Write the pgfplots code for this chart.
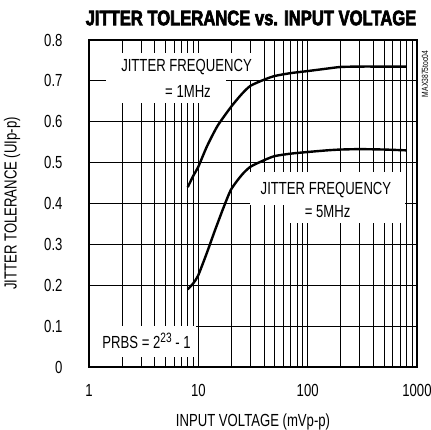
\documentclass[border=0pt]{standalone}
\usepackage{fontspec}
\setmainfont{Liberation Sans}[FakeStretch=0.75]
\newfontfamily\titlefont{Liberation Sans}[FakeStretch=0.79, BoldFeatures={FakeBold=3}]
\usepackage{pgfplots}
\pgfplotsset{compat=1.18}
\begin{document}
\begin{tikzpicture}
\begin{axis}[
  name=ax,
  set layers=standard,
  xmode=log, log basis x=10,
  xmin=1, xmax=1000, ymin=0, ymax=0.8,
  scale only axis, width=328bp, height=327bp,
  xtick={1,10,100,1000}, xticklabels={1,10,100,1000},
  minor xtick={2,3,4,5,6,7,8,9,20,30,40,50,60,70,80,90,200,300,400,500,600,700,800,900},
  ytick={0,0.1,0.2,0.3,0.4,0.5,0.6,0.7,0.8},
  yticklabels={0,0.1,0.2,0.3,0.4,0.5,0.6,0.7,0.8},
  grid=both,
  major grid style={black, line width=0.8bp},
  minor grid style={black, line width=0.8bp},
  axis line style={line width=1.8bp},
  major tick length=0pt, minor tick length=0pt,
  /pgf/number format/assume math mode=true,
  tick label style={font=\fontsize{17.5bp}{20bp}\selectfont},
  yticklabel style={xshift=-23bp},
  xticklabel style={yshift=-14bp},
  clip=false,
]
% white backgrounds behind the annotations
\fill[white, on layer=pre main] (axis cs:1.43,0.768) rectangle (axis cs:33.7,0.702);
\fill[white, on layer=pre main] (axis cs:1.43,0.702) rectangle (axis cs:17.9,0.646);
\fill[white, on layer=pre main] (axis cs:29.7,0.477) rectangle (axis cs:780,0.396);
\fill[white, on layer=pre main] (axis cs:69,0.396) rectangle (axis cs:780,0.352);
\fill[white, on layer=pre main] (axis cs:1.02,0.0995) rectangle (axis cs:9.6,0.0245);
\node[on layer=pre main, inner sep=0pt, font=\fontsize{17.5bp}{21bp}\selectfont] at (axis cs:7.8,0.735) {JITTER FREQUENCY};
\node[on layer=pre main, inner sep=0pt, font=\fontsize{17.5bp}{21bp}\selectfont] at (axis cs:8.05,0.674) {= 1MHz};
\node[on layer=pre main, inner sep=0pt, font=\fontsize{17.5bp}{21bp}\selectfont] at (axis cs:147,0.433) {JITTER FREQUENCY};
\node[on layer=pre main, inner sep=0pt, font=\fontsize{17.5bp}{21bp}\selectfont] at (axis cs:152,0.380) {= 5MHz};
\node[on layer=pre main, inner sep=0pt, font=\fontsize{17.5bp}{21bp}\selectfont] at (axis cs:3.36,0.064) {PRBS = 2\raisebox{6bp}{\fontsize{13.5bp}{14bp}\selectfont 23} - 1};
\addplot[black, line width=2.4bp, line join=round, smooth, tension=0.4] coordinates {
(8,0.44) (9,0.468) (10,0.49) (12,0.54) (15,0.59) (20,0.637) (25,0.668) (30,0.688) (40,0.703) (50,0.712) (70,0.719) (100,0.724) (150,0.73) (200,0.734) (300,0.735) (500,0.735) (800,0.735)};
\addplot[black, line width=2.4bp, line join=round, smooth, tension=0.4] coordinates {
(8,0.19) (9,0.205) (10,0.225) (12,0.28) (14,0.33) (17,0.39) (20,0.435) (25,0.47) (30,0.49) (40,0.506) (50,0.516) (70,0.522) (100,0.526) (150,0.53) (200,0.532) (300,0.533) (500,0.532) (800,0.530)};
\end{axis}
\node[font=\titlefont\bfseries\fontsize{21bp}{24bp}\selectfont] at ([xshift=-2bp,yshift=22bp]ax.north) {JITTER TOLERANCE vs. INPUT VOLTAGE};
\node[rotate=90, font=\fontsize{17.5bp}{20bp}\selectfont] at ([xshift=-77bp]ax.west) {JITTER TOLERANCE (UIp-p)};
\node[font=\fontsize{17.5bp}{20bp}\selectfont] at ([yshift=-55bp]ax.south) {INPUT VOLTAGE (mVp-p)};
\node[rotate=90, font=\fontsize{9bp}{10bp}\selectfont] at ([xshift=8bp,yshift=-34bp]ax.north east) {MAX3875toc04};
\pgfresetboundingbox
\path[use as bounding box] ([shift={(-89bp,-63bp)}]ax.south west) rectangle ([shift={(14bp,40bp)}]ax.north east);
\end{tikzpicture}
\end{document}
